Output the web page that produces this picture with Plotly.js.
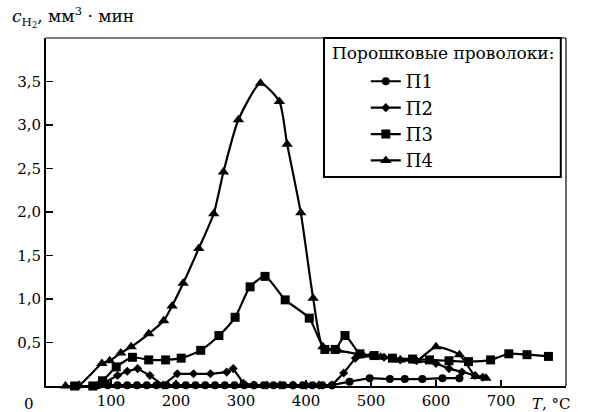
<!DOCTYPE html>
<html>
<head>
<meta charset="utf-8">
<script src="https://cdn.plot.ly/plotly-3.0.1.min.js"></script>
<style>html,body{margin:0;padding:0;background:#fff;}#chart{width:600px;height:412px;}</style>
</head>
<body>
<div id="chart"></div>
<script>
// Temperature (°C) and values for each flux-cored wire
const p1T = [80, 95, 110, 125, 140, 155, 170, 185, 200, 215, 230, 245, 260, 275, 290, 305, 320, 335, 350, 365, 380, 395, 410, 425, 440, 467, 498, 529, 552, 579, 610, 636];
const p1V = [0.01, 0.01, 0.01, 0.01, 0.01, 0.01, 0.01, 0.01, 0.01, 0.01, 0.01, 0.01, 0.01, 0.01, 0.01, 0.01, 0.01, 0.01, 0.01, 0.01, 0.01, 0.01, 0.01, 0.01, 0.01, 0.05, 0.09, 0.08, 0.08, 0.08, 0.09, 0.09];

const p2T = [50, 70, 90, 110, 125, 141, 160, 180, 202, 227, 253, 278, 288, 304, 320, 340, 360, 380, 400, 420, 440, 458, 476, 500, 520, 545, 570, 600, 620, 640, 660, 672];
const p2V = [0.0, 0.0, 0.04, 0.12, 0.17, 0.2, 0.12, 0.01, 0.14, 0.14, 0.14, 0.16, 0.2, 0.03, 0.01, 0.01, 0.01, 0.01, 0.01, 0.01, 0.01, 0.15, 0.32, 0.35, 0.33, 0.3, 0.29, 0.26, 0.2, 0.16, 0.12, 0.1];

const p3T = [44, 72, 87, 108, 133, 158, 184, 208, 238, 266, 291, 314, 337, 368, 405, 429, 445, 460, 483, 505, 533, 564, 590, 620, 650, 684, 712, 740, 773];
const p3V = [0.0, 0.0, 0.06, 0.22, 0.33, 0.3, 0.3, 0.32, 0.41, 0.58, 0.79, 1.14, 1.26, 0.99, 0.78, 0.42, 0.42, 0.58, 0.37, 0.35, 0.32, 0.31, 0.3, 0.29, 0.28, 0.3, 0.37, 0.36, 0.34];

const p4T = [30, 51, 86, 98, 115, 131, 158, 181, 194, 211, 235, 258, 273, 296, 330, 359, 371, 392, 411, 426, 449, 487, 515, 545, 570, 600, 636, 661, 677];
const p4V = [0.0, 0.01, 0.26, 0.29, 0.38, 0.45, 0.6, 0.75, 0.92, 1.18, 1.58, 1.98, 2.46, 3.06, 3.48, 3.27, 2.78, 1.99, 1.01, 0.45, 0.41, 0.36, 0.33, 0.3, 0.29, 0.45, 0.36, 0.11, 0.09];

const seriesNames = ["П1", "П2", "П3", "П4"];
const legendTitle = "Порошковые проволоки:";
const xTicks = [100, 200, 300, 400, 500, 600, 700];
const xTickText = ["100", "200", "300", "400", "500", "600", "700"];
const yTicks = [0.5, 1.0, 1.5, 2.0, 2.5, 3.0, 3.5];
const yTickText = ["0,5", "1,0", "1,5", "2,0", "2,5", "3,0", "3,5"];

const F = "DejaVu Serif, Liberation Serif, serif";
function tr(x, y, name, symbol, size, shape) {
  return {
    x: x, y: y, name: name, type: "scatter", mode: "lines+markers",
    line: {color: "#000", width: 2.2, shape: shape || "linear", smoothing: 0.6},
    marker: {color: "#000", symbol: symbol, size: size},
    cliponaxis: false
  };
}
const data = [
  tr(p1T, p1V, seriesNames[0], "circle", 8),
  tr(p2T, p2V, seriesNames[1], "diamond", 7),
  tr(p3T, p3V, seriesNames[2], "square", 9, "spline"),
  tr(p4T, p4V, seriesNames[3], "triangle-up", 10, "spline")
];

const layout = {
  width: 600, height: 412,
  margin: {l: 46, r: 34, t: 38, b: 26},
  paper_bgcolor: "#fff", plot_bgcolor: "#fff",
  font: {family: F, color: "#000", size: 15},
  showlegend: true,
  legend: {
    x: 0.615, y: 0.928, xanchor: "left", yanchor: "top",
    borderwidth: 0, bgcolor: "rgba(0,0,0,0)",
    font: {family: F, size: 18, color: "#000"},
    itemwidth: 30
  },
  xaxis: {
    range: [0, 800], tickvals: xTicks, ticktext: xTickText,
    ticks: "inside", ticklen: 6, tickwidth: 1.5, tickcolor: "#000",
    showline: true, linecolor: "#000", linewidth: 2,
    showgrid: false, zeroline: false,
    tickfont: {family: F, size: 15}
  },
  yaxis: {
    range: [0, 4], tickvals: yTicks, ticktext: yTickText,
    ticks: "inside", ticklen: 7, tickwidth: 1.5, tickcolor: "#000",
    showline: true, linecolor: "#000", linewidth: 2,
    showgrid: false, zeroline: false,
    tickfont: {family: F, size: 15}
  },
  shapes: [
    {type: "line", xref: "paper", yref: "paper", x0: 0, x1: 1, y0: 1, y1: 1, line: {color: "#000", width: 1.2}},
    {type: "line", xref: "paper", yref: "paper", x0: 1, x1: 1, y0: 0, y1: 1, line: {color: "#000", width: 1.2}},
    {type: "rect", xref: "paper", yref: "paper", x0: 0.5346, x1: 0.990, y0: 0.6006, y1: 1.0, line: {color: "#000", width: 2}, fillcolor: "rgba(255,255,255,1)", layer: "below"}
  ],
  annotations: [
    {xref: "paper", yref: "paper", x: -0.07, y: 1.06, xanchor: "left", yanchor: "middle", showarrow: false,
     text: "<i>c</i><sub>H<sub>2</sub></sub>, мм<sup>3</sup> · мин", font: {family: F, size: 17}},
    {xref: "paper", yref: "paper", x: -0.02, y: -0.052, xanchor: "right", yanchor: "middle", showarrow: false,
     text: "0", font: {family: F, size: 15}},
    {xref: "paper", yref: "paper", x: 0.93, y: -0.052, xanchor: "left", yanchor: "middle", showarrow: false,
     text: "<i>T</i>, °C", font: {family: F, size: 15}},
    {xref: "paper", yref: "paper", x: 0.546, y: (386 - 53) / 348, xanchor: "left", yanchor: "middle", showarrow: false,
     text: legendTitle, font: {family: F, size: 17}}
  ]
};
Plotly.newPlot("chart", data, layout, {displayModeBar: false, staticPlot: true});
</script>
</body>
</html>
